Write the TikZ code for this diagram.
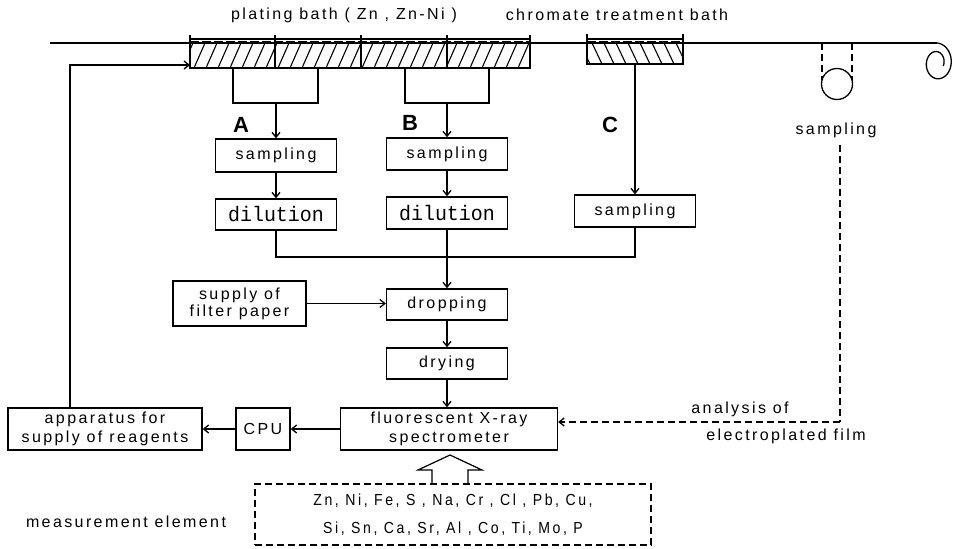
\documentclass[tikz,border=0pt]{standalone}
\usepackage{fontspec}
\setmainfont{Liberation Sans}
\newfontfamily\labfont[LetterSpace=15]{Liberation Sans}
\newfontfamily\listfont[LetterSpace=16,FakeStretch=0.88]{Liberation Sans}
\newfontfamily\dilfont[FakeStretch=0.95]{Liberation Mono}
\usetikzlibrary{arrows.meta}
\begin{document}
\begin{tikzpicture}[x=1pt,y=-1pt,line width=1.3pt,
  box/.style={draw,rectangle,inner sep=0pt,align=center,font=\labfont\fontsize{16}{20}\selectfont},
  dbox/.style={box,font=\dilfont\fontsize{21}{24}\selectfont},
  arr/.style={-{Straight Barb[length=5pt,width=8pt]}},
  dsh/.style={dash pattern=on 7pt off 4pt},
  txt/.style={inner sep=0pt,align=center,font=\labfont\fontsize{16}{20}\selectfont},
  letter/.style={inner sep=0pt,font=\bfseries\fontsize{22}{24}\selectfont}]
\useasboundingbox (0,0) rectangle (954,549);

% ---- titles
\node[txt] (tplate) at (344,15) {plating bath ( Zn , Zn-Ni )};
\node[txt] (tchrom) at (617,15) {chromate treatment bath};

% ---- strip line
\coordinate (stripL) at (50,43);
\coordinate (stripR) at (937,43);
\draw (stripL) -- (stripR);
\draw plot[domain=0:470,samples=150,smooth]
  ({937+(16-0.02*\x)*sin(\x)},{63-(20-0.024*\x)*cos(\x)});

% ---- plating bath
\begin{scope}
  \clip (190,43) rectangle (530,68);
  \foreach \i in {0,...,30} {\draw[line width=1.1pt] (182+\i*12,68) -- ++(11,-25);}
\end{scope}
\draw[line width=0.9pt,dash pattern=on 9pt off 3pt] (190,41) -- (530,41);
\draw (190,39) rectangle (530,68);
\foreach \x in {190,275,361,447,530} {\draw (\x,35) -- (\x,68);}

% ---- chromate bath
\begin{scope}
  \clip (587,43) rectangle (683,64);
  \foreach \i in {0,...,10} {\draw[line width=1.1pt] (590+\i*12,64) -- ++(-10,-21);}
\end{scope}
\draw[line width=0.9pt,dash pattern=on 9pt off 3pt] (587,41) -- (683,41);
\draw (587,39) rectangle (683,64);
\draw (587,34) -- (587,64);
\draw (683,34) -- (683,64);

% ---- roller
\node[draw,circle,minimum size=31pt,inner sep=0pt] (roll) at (837,84) {};
\draw[dsh,line width=1.1pt] (822,43) -- (822,80);
\draw[dsh,line width=1.1pt] (852,43) -- (852,80);

% ---- brackets under plating bath
\draw (233,68) -- (233,103) -- (318,103) -- (318,68);
\draw (405,68) -- (405,103) -- (489,103) -- (489,68);
\coordinate (brA) at (276,103);
\coordinate (brB) at (447,103);
\coordinate (chr) at (635,64);

% ---- letters
\node[letter] (lA) at (241,125) {A};
\node[letter] (lB) at (410,123) {B};
\node[letter] (lC) at (610,125) {C};

% ---- boxes
\node[box,minimum width=121pt,minimum height=33pt] (sA) at (276,155.5) {sampling};
\node[dbox,minimum width=121pt,minimum height=31pt] (dA) at (276,214.5) {dilution};
\node[box,minimum width=121pt,minimum height=32pt] (sB) at (447,154) {sampling};
\node[dbox,minimum width=121pt,minimum height=32pt] (dB) at (447,213) {dilution};
\node[box,minimum width=121pt,minimum height=32pt] (sC) at (635,211) {sampling};
\node[box,minimum width=121pt,minimum height=31pt] (drop) at (447,304.5) {dropping};
\node[box,minimum width=121pt,minimum height=31pt] (dry) at (447,363.5) {drying};
\node[box,minimum width=133pt,minimum height=45pt] (filt) at (239.5,303.5) {supply of\\[-3pt]filter paper};
\node[box,minimum width=217pt,minimum height=42pt] (spec) at (449,429) {fluorescent X-ray\\[-1pt]spectrometer};
\node[box,minimum width=54pt,minimum height=42pt] (cpu) at (263,429) {CPU};
\node[box,minimum width=194pt,minimum height=42pt] (app) at (105,429) {apparatus for\\[-1pt]supply of reagents};
\node[draw,dsh,rectangle,inner sep=0pt,minimum width=396pt,minimum height=61pt,align=center,
  font=\listfont\fontsize{16}{28}\selectfont] (meas) at (453,514.5)
  {Zn, Ni, Fe, S , Na, Cr , Cl , Pb, Cu,\\Si, Sn, Ca, Sr, Al , Co, Ti, Mo, P};
\node[txt] (measlab) at (126,522) {measurement element};

% ---- right side labels
\node[txt] (sampR) at (836,130) {sampling};
\node[txt] (anal1) at (740,409) {analysis of};
\node[txt] (anal2) at (786,436) {electroplated film};

% ---- connectors
\draw[arr] (brA) -- (sA.north);
\draw[arr] (sA) -- (dA);
\draw[arr] (brB) -- (sB.north);
\draw[arr] (sB) -- (dB);
\draw[arr] (chr) -- (sC.north);
\draw (dA.south) -- (dA.south |- 0,257) -- (sC.south |- 0,257) -- (sC.south);
\draw[arr] (dB.south) -- (drop.north);
\draw[arr] (filt.east) -- (drop.west |- filt.east);
\draw[arr] (drop) -- (dry);
\draw[arr] (dry.south) -- (spec.north -| dry.south);
\draw[arr] (spec) -- (cpu);
\draw[arr] (cpu) -- (app);
\coordinate (fb) at (70,65);
\coordinate (bathL) at (190,65);
\draw[arr] (app.north -| fb) -- (fb) -- (bathL);
\coordinate (dtop) at (840,145);
\coordinate (dcorner) at (840,422);
\draw[dsh] (dtop) -- (dcorner);
\draw[dsh,arr] (dcorner) -- (spec.east |- dcorner);
% hollow arrow
\draw[line width=1.2pt] (meas.north -| 432,0) -- (432,470) -- (418,470) -- (450,455) -- (482,470) -- (468,470) -- (meas.north -| 468,0);
\end{tikzpicture}
\end{document}
